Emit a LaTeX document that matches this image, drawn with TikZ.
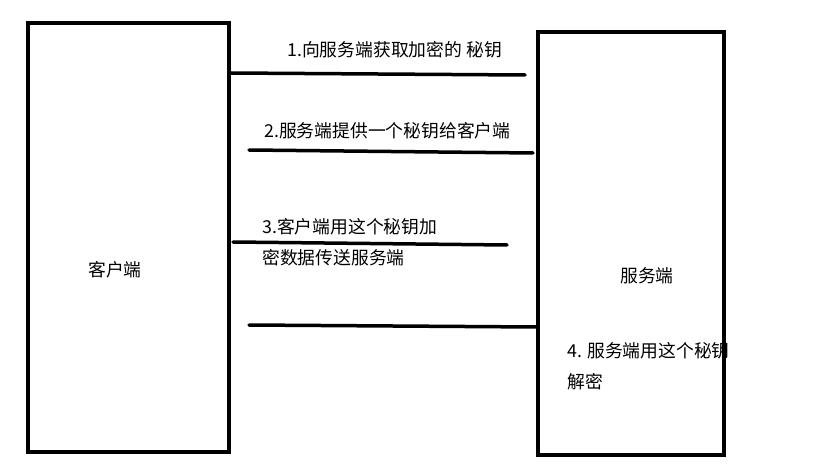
\documentclass[tikz,border=0pt]{standalone}
\usepackage{fontspec}
\setmainfont{Liberation Sans}
\newfontfamily\cjk{Noto Sans CJK SC}
\tikzset{
  party/.style={draw=black, line width=4pt, minimum width=#1, inner sep=0pt},
  msgline/.style={line width=3.5pt, line cap=round},
  lbl/.style={font=\cjk\fontsize{17.8}{31}\selectfont, inner sep=0pt, anchor=west, align=left}
}
\begin{document}
\begin{tikzpicture}[x=1pt,y=-1pt]
\useasboundingbox (0,0) rectangle (839,476);
% boxes
\node[party=201pt, minimum height=429pt] (client) at (128.5,237.5) {};
\node[party=186pt, minimum height=422pt] (server) at (631,243.5) {};
\node[font=\cjk\fontsize{17.8}{20}\selectfont] (clab) at (115,270) {客户端};
\node[font=\cjk\fontsize{17.8}{20}\selectfont] (slab) at (647,276) {服务端};
% line endpoints
\coordinate (a1) at (231,73);  \coordinate (b1) at (525,75);
\coordinate (a2) at (249,150); \coordinate (b2) at (533,153);
\coordinate (a3) at (233,242); \coordinate (b3) at (507,245);
\coordinate (a4) at (249,325); \coordinate (b4) at (537,327);
\draw[msgline] (a1) -- (b1);
\draw[msgline] (a2) -- (b2);
\draw[msgline] (a3) -- (b3);
\draw[msgline] (a4) -- (b4);
% labels
\node[lbl] (t1) at (287,50) {1.向服务端获取加密的 秘钥};
\node[lbl] (t2) at (264,131) {2.服务端提供一个秘钥给客户端};
\node[lbl] (t3) at (262,242) {3.客户端用这个秘钥加\\密数据传送服务端};
\node[lbl] (t4) at (567,366) {4. 服务端用这个秘钥\\解密};
\end{tikzpicture}
\end{document}
